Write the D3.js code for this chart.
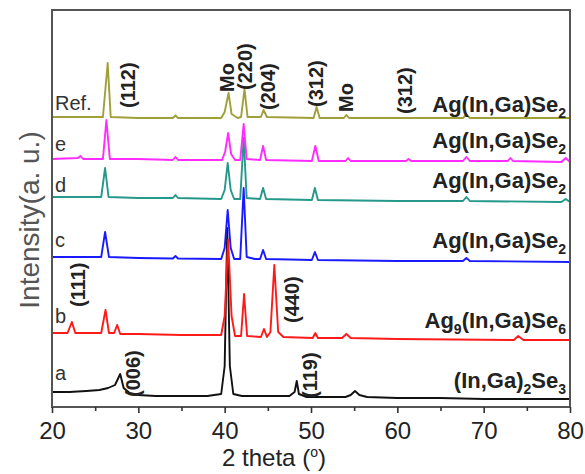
<!DOCTYPE html>
<html>
  <head>
    <meta charset="UTF-8" />
    <style>
      body { margin: 0; background: #fff; }
      svg { display: block; font-family: "Liberation Sans", Arial, sans-serif; }
    </style>
  </head>
  <body>
    <svg></svg>
    <script src="https://d3js.org/d3.v7.min.js"></script>
    <script>
      let width = 585,
        height = 474;

      // 2 theta ticks
      let majorTicks = [20, 30, 40, 50, 60, 70, 80];
      let minorTicks = [25, 35, 45, 55, 65, 75];

      // vertical stacking offsets (a.u.)
      let offsets = { a: 11, b: 69, c: 147, d: 207, e: 247, ref: 290 };

      // traces: [2theta, intensity above own offset]
      let traceA = [[20, 4], [22, 4], [24, 5], [25.5, 6], [26.5, 8], [27.3, 11], [27.9, 22], [28.3, 8],
        [29, 3], [30, 1], [32, 0], [35, 0], [38, 0], [39.6, 2], [40.0, 30], [40.3, 168], [40.6, 30],
        [41, 2], [42, 0], [44, 0], [46, 0], [47.5, 0], [48.1, 4], [48.35, 15], [48.6, 2], [49.5, -1],
        [52, -1], [54, -1], [54.6, 1], [55.1, 5], [55.6, 1], [56.5, -1], [60, -2], [65, -2], [70, -3],
        [75, -3], [80, -3]];
      let traceB = [[20, 5], [21.8, 5], [22.3, 16], [22.7, 5], [25.7, 5], [26.2, 28], [26.6, 5],
        [27.2, 5], [27.55, 13], [27.9, 4], [30, 4], [35, 3], [39.6, 3], [40.0, 22], [40.4, 98],
        [40.8, 22], [41.2, 2], [41.9, 2], [42.25, 44], [42.6, 2], [44.2, 1], [44.55, 9], [44.9, 1],
        [45.3, 6], [45.75, 73], [46.2, 6], [46.8, 1], [50.2, 0], [50.5, 5], [50.8, 0], [53.6, 0],
        [54.1, 4], [54.6, 0], [60, -1], [73.5, -2], [74.0, 2], [74.6, -2], [80, -2]];
      let traceC = [[20, 3], [24, 3], [25.7, 3], [26.15, 28], [26.6, 3], [30, 2], [34, 1.5], [34.3, 4],
        [34.6, 1.5], [39.6, 1], [40.0, 12], [40.35, 50], [40.7, 12], [41.1, 1], [41.8, 1], [42.2, 72],
        [42.55, 3], [43.5, 1], [44.1, 1], [44.45, 10], [44.8, 1], [50.1, 0], [50.45, 8], [50.8, 0],
        [60, -1], [67.6, -1], [68, 2], [68.4, -1], [80, -2]];
      let traceD = [[20, 3], [25.7, 3], [26.15, 32], [26.55, 3], [30, 2], [34, 2], [34.3, 5], [34.6, 2],
        [39.6, 1], [40.0, 10], [40.35, 37], [40.7, 10], [41.1, 1], [41.8, 1], [42.2, 62], [42.55, 2],
        [44.1, 1], [44.45, 12], [44.8, 1], [50.1, 0], [50.45, 12], [50.8, 0], [60, -1], [67.6, -1],
        [68, 3], [68.4, -1], [79, -2], [79.5, 1], [80, -2]];
      let traceE = [[20, 1], [23, 2], [23.3, 4], [23.6, 1], [25.9, 1], [26.3, 40], [26.7, 1], [30, 1],
        [34, 0], [34.3, 3], [34.6, 0], [39.7, 0], [40.05, 8], [40.4, 27], [40.75, 6], [41.2, 0],
        [41.8, 0], [42.2, 36], [42.55, 1], [44.1, 0], [44.45, 14], [44.8, 0], [50.1, -1], [50.5, 14],
        [50.9, -1], [54, -1], [54.3, 2], [54.6, -1], [61, -1], [61.3, 1], [61.6, -1], [67.6, -1],
        [68, 3], [68.4, -1], [72.8, -1], [73.1, 2], [73.4, -1], [79, -2], [79.5, 2], [80, -2]];
      let traceRef = [[20, 0], [25.9, 0], [26.45, 54], [26.8, 0], [30, -1], [34, -1], [34.3, 1.5],
        [34.6, -1], [39.6, -1], [40.0, 5], [40.45, 24], [40.8, 3], [41.5, -1], [41.9, 0], [42.3, 28],
        [42.65, 0], [44.2, 0], [44.5, 7], [44.9, 0], [50.3, -1], [50.65, 10], [51.0, -1], [53.8, -1],
        [54.1, 2], [54.4, -1], [67.6, -1], [68.0, 2.5], [68.4, -1], [80, -1]];

      let series = [
        { key: "a", data: traceA, color: "#111111" },
        { key: "b", data: traceB, color: "#ff1a1a" },
        { key: "c", data: traceC, color: "#1a1aff" },
        { key: "d", data: traceD, color: "#24988a" },
        { key: "e", data: traceE, color: "#ff2bff" },
        { key: "ref", data: traceRef, color: "#a0a03a" },
      ];

      // sample letters and phase names
      let sampleLabels = [
        { key: "ref", text: "Ref.", y: 110 },
        { key: "e", text: "e", y: 151 },
        { key: "d", text: "d", y: 192 },
        { key: "c", text: "c", y: 247 },
        { key: "b", text: "b", y: 323 },
        { key: "a", text: "a", y: 380 },
      ];
      let phaseLabels = [
        { parts: [["Ag(In,Ga)Se", 0], ["2", 1]], y: 112 },
        { parts: [["Ag(In,Ga)Se", 0], ["2", 1]], y: 148 },
        { parts: [["Ag(In,Ga)Se", 0], ["2", 1]], y: 188 },
        { parts: [["Ag(In,Ga)Se", 0], ["2", 1]], y: 248 },
        { parts: [["Ag", 0], ["9", 1], ["(In,Ga)Se", 0], ["6", 1]], y: 328 },
        { parts: [["(In,Ga)", 0], ["2", 1], ["Se", 0], ["3", 1]], y: 388 },
      ];
      // peak indexing: [2theta position of label, text, bottom y]
      let peakLabels = [
        [28.8, "(112)", 108],
        [40.3, "Mo", 92],
        [42.4, "(220)", 90],
        [45.0, "(204)", 110],
        [50.6, "(312)", 107],
        [54.1, "Mo", 112],
        [60.9, "(312)", 114],
        [23.0, "(111)", 307],
        [47.8, "(440)", 323],
        [29.4, "(006)", 397],
        [49.9, "(119)", 398],
      ];

      let svg = d3.select("svg").attr("width", width).attr("height", height);

      let x = d3.scaleLinear().domain([20, 80]).range([52, 570]);
      let y = d3.scaleLinear().domain([0, 397]).range([407, 10]);

      let line = d3.line()
        .x((d) => x(d[0]))
        .y((d) => y(d[1]));

      // traces
      svg.append("g")
        .attr("fill", "none")
        .attr("stroke-width", 1.9)
        .attr("stroke-linejoin", "round")
        .selectAll("path")
        .data(series)
        .join("path")
        .attr("stroke", (d) => d.color)
        .attr("d", (s) => line(s.data.map((p) => [p[0], offsets[s.key] + p[1]])));

      // frame
      svg.append("rect")
        .attr("x", 52).attr("y", 10)
        .attr("width", 518).attr("height", 397)
        .attr("fill", "none")
        .attr("stroke", "#555")
        .attr("stroke-width", 2);

      // x axis, major + minor ticks
      let xAxis = svg.append("g")
        .attr("transform", "translate(0,407)")
        .call(d3.axisBottom(x).tickValues(majorTicks).tickSize(6).tickPadding(9));
      xAxis.select(".domain").remove();
      xAxis.selectAll("line").attr("stroke", "#333").attr("stroke-width", 1.6);
      xAxis.selectAll("text")
        .attr("fill", "#222")
        .style("font-size", "24px")
        .style("font-family", "Liberation Sans, Arial, sans-serif");

      let xMinor = svg.append("g")
        .attr("transform", "translate(0,407)")
        .call(d3.axisBottom(x).tickValues(minorTicks).tickSize(4).tickFormat(""));
      xMinor.select(".domain").remove();
      xMinor.selectAll("line").attr("stroke", "#333").attr("stroke-width", 1.6);

      // axis titles
      let xt = svg.append("text")
        .attr("x", 274).attr("y", 466)
        .attr("text-anchor", "middle")
        .attr("fill", "#222")
        .style("font-size", "24px");
      xt.append("tspan").text("2 theta (");
      xt.append("tspan").attr("dy", -9).style("font-size", "14px").text("o");
      xt.append("tspan").attr("dy", 9).text(")");

      svg.append("text")
        .attr("transform", "translate(39,220) rotate(-90)")
        .attr("text-anchor", "middle")
        .attr("fill", "#555")
        .style("font-size", "28px")
        .text("Intensity(a. u.)");

      // sample letters
      svg.append("g")
        .selectAll("text")
        .data(sampleLabels)
        .join("text")
        .attr("x", 55)
        .attr("y", (d) => d.y)
        .attr("fill", "#333")
        .style("font-size", "20px")
        .text((d) => d.text);

      // phase names with subscripts
      phaseLabels.forEach((p) => {
        let t = svg.append("text")
          .attr("x", 566).attr("y", p.y)
          .attr("text-anchor", "end")
          .attr("fill", "#222")
          .style("font-size", "22px")
          .style("font-weight", "bold");
        let shifted = 0;
        p.parts.forEach((part) => {
          let want = part[1] ? 6 : 0;
          t.append("tspan")
            .attr("dy", want - shifted)
            .style("font-size", part[1] ? "14px" : null)
            .text(part[0]);
          shifted = want;
        });
      });

      // peak indices, rotated
      svg.append("g")
        .selectAll("text")
        .data(peakLabels)
        .join("text")
        .attr("transform", (d) => `translate(${x(d[0])},${d[2]}) rotate(-90)`)
        .attr("dy", "0.35em")
        .attr("fill", "#222")
        .style("font-size", "20px")
        .style("font-weight", "bold")
        .text((d) => d[1]);
    </script>
  </body>
</html>
